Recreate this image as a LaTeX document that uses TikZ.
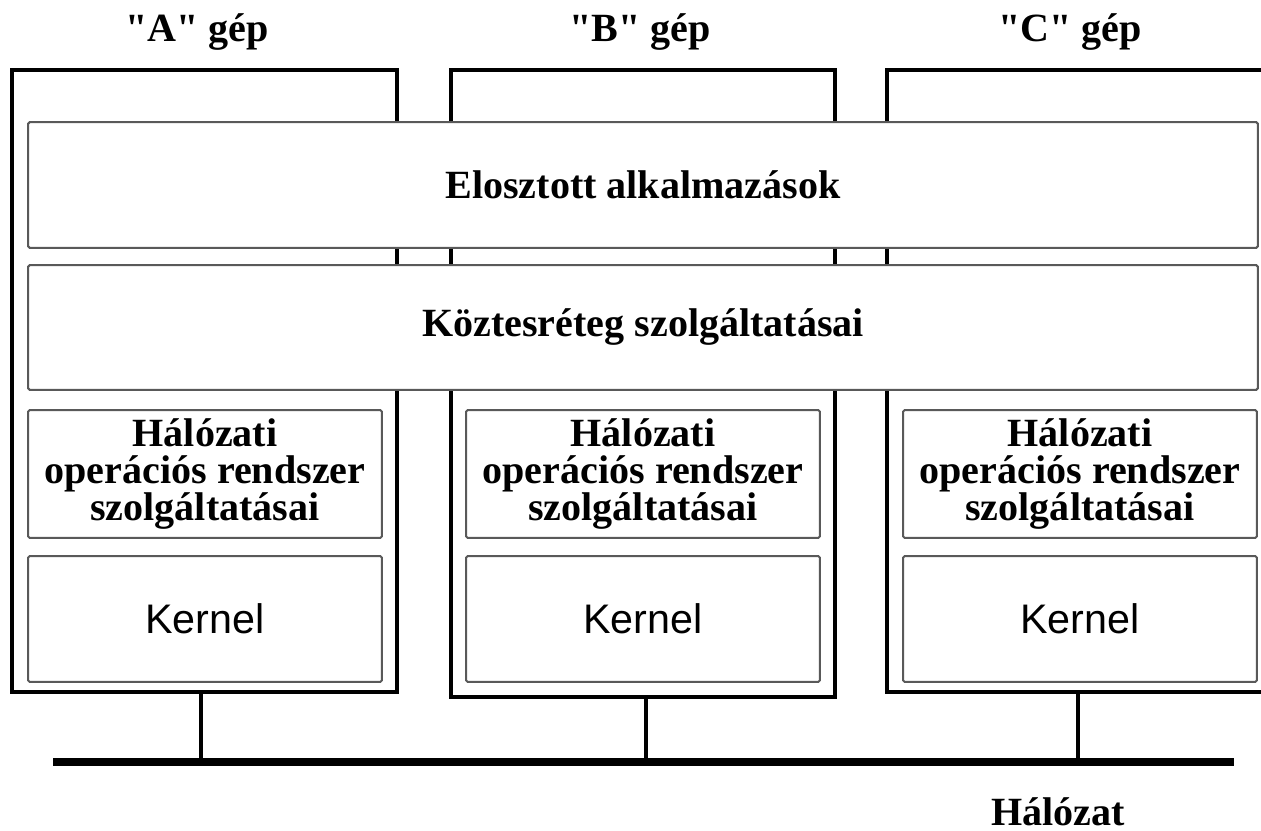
\documentclass[tikz,border=0pt]{standalone}
\usepackage{fontspec}
\setmainfont{Liberation Serif}
\newfontfamily\kernelfont{Liberation Sans}
\usepackage{tikz}
\usetikzlibrary{positioning}

\tikzset{
  gep/.style={draw, rectangle, line width=0.09cm},
  reteg/.style={draw=gray!70!black, rectangle, line width=0.04cm, fill=white, rounded corners=1pt,
    font=\fontsize{22.8}{21}\selectfont\bfseries, align=center},
  kern/.style={reteg, font=\kernelfont\fontsize{23.5}{26}\selectfont},
  cim/.style={font=\fontsize{22.8}{26}\selectfont\bfseries, anchor=base}
}

\begin{document}
\begin{tikzpicture}[x=0.02cm, y=-0.02cm]
\useasboundingbox (0,0) rectangle (1261,831);
\node[gep, minimum width=7.7cm, minimum height=12.44cm] (gepA) at (204.5,381) {};
\node[gep, minimum width=7.68cm, minimum height=12.54cm] (gepB) at (643,383.5) {};
\node[gep, minimum width=8.26cm, minimum height=12.44cm] (gepC) at (1093.5,381) {};
\node[cim] (cimA) at (197,42) {\textquotedbl A\textquotedbl{} gép};
\node[cim] (cimB) at (640,42) {\textquotedbl B\textquotedbl{} gép};
\node[cim] (cimC) at (1070,42) {\textquotedbl C\textquotedbl{} gép};
\node[reteg, minimum width=24.6cm, minimum height=2.52cm] (alk) at (643,185) {Elosztott alkalmazások};
\node[reteg, minimum width=24.6cm, minimum height=2.5cm] (koztes) at (643,327.5) {Köztesréteg szolgáltatásai};
\node[reteg, minimum width=7.08cm, minimum height=2.56cm] (nosA) at (205,474) {Hálózati\\operációs rendszer\\szolgáltatásai};
\node[reteg, minimum width=7.08cm, minimum height=2.56cm] (nosB) at (643,474) {Hálózati\\operációs rendszer\\szolgáltatásai};
\node[reteg, minimum width=7.08cm, minimum height=2.56cm] (nosC) at (1080,474) {Hálózati\\operációs rendszer\\szolgáltatásai};
\node[kern, minimum width=7.08cm, minimum height=2.52cm] (kernA) at (205,619) {Kernel};
\node[kern, minimum width=7.08cm, minimum height=2.52cm] (kernB) at (643,619) {Kernel};
\node[kern, minimum width=7.08cm, minimum height=2.52cm] (kernC) at (1080,619) {Kernel};
\coordinate (busL) at (53,762);
\coordinate (busR) at (1234,762);
\coordinate (tapA) at (201,762);
\coordinate (tapB) at (646,762);
\coordinate (tapC) at (1078,762);
\draw[line width=0.16cm] (busL) -- (busR);
\draw[line width=0.08cm] (gepA.south -| tapA) -- (tapA);
\draw[line width=0.08cm] (gepB.south -| tapB) -- (tapB);
\draw[line width=0.08cm] (gepC.south -| tapC) -- (tapC);
\node[cim] (halozat) at (1058,825) {Hálózat};
\end{tikzpicture}
\end{document}
